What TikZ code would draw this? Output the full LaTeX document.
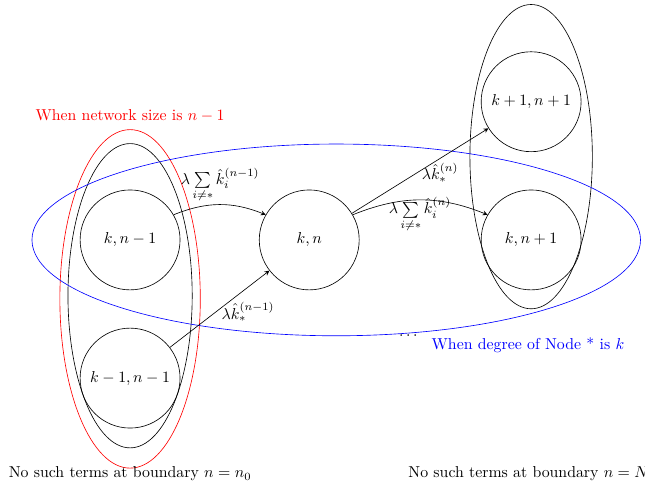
\documentclass[tikz,border=0pt]{standalone}
\usetikzlibrary{calc}

\begin{document}
\begin{tikzpicture}[scale=1,
    state/.style={draw, circle, minimum size=2.22cm, inner sep=0pt},
    arr/.style={-stealth, thin}]
    \useasboundingbox (0,0) rectangle (14.33,10.84);

    % Define the centres of the states
    \coordinate (P) at (2.89,5.51);
    \coordinate (Q) at (2.89,2.44);
    \coordinate (C) at (6.87,5.51);
    \coordinate (U) at (11.8,8.58);
    \coordinate (R) at (11.8,5.51);

    % Draw the groups round the states
    \draw (2.89,4.27) ellipse (1.38cm and 3.38cm);
    \draw[red] (2.89,4.2) ellipse (1.56cm and 3.76cm);
    \draw (11.8,7.36) ellipse (1.36cm and 3.38cm);
    \draw[blue] (7.47,5.51) ellipse (6.76cm and 2.13cm);

    % Draw the states
    \node[state] (kn1) at (P) {$k,n-1$};
    \node[state] (k1n1) at (Q) {$k-1,n-1$};
    \node[state] (kn) at (C) {$k,n$};
    \node[state] (k1n) at (U) {$k+1,n+1$};
    \node[state] (knp) at (R) {$k,n+1$};

    % Draw the transitions
    \draw[arr] (kn1.30) to[bend left=22] (kn.150);
    \draw[arr] (k1n1) -- (kn);
    \draw[arr] (kn) -- (k1n);
    \draw[arr] (kn.30) to[bend left=22] (knp.150);

    % Place the rates
    \node at (4.89,6.73) {$\lambda\sum\limits_{i\neq *}\hat{k}_i^{(n-1)}$};
    \node at (5.51,3.91) {$\lambda\hat{k}_*^{(n-1)}$};
    \node at (9.78,7.0) {$\lambda\hat{k}_*^{(n)}$};
    \node at (9.33,6.07) {$\lambda\sum\limits_{i\neq *}\hat{k}_i^{(n)}$};
    \node at (9.07,3.38) {$\cdots$};

    % Place the group labels
    \node[red] at (2.89,8.27) {When network size is $n-1$};
    \node[blue] at (11.73,3.16) {When degree of Node * is $k$};
    \node at (2.89,0.31) {No such terms at boundary $n=n_0$};
    \node[anchor=west] at (8.95,0.31) {No such terms at boundary $n=N$};

\end{tikzpicture}
\end{document}
